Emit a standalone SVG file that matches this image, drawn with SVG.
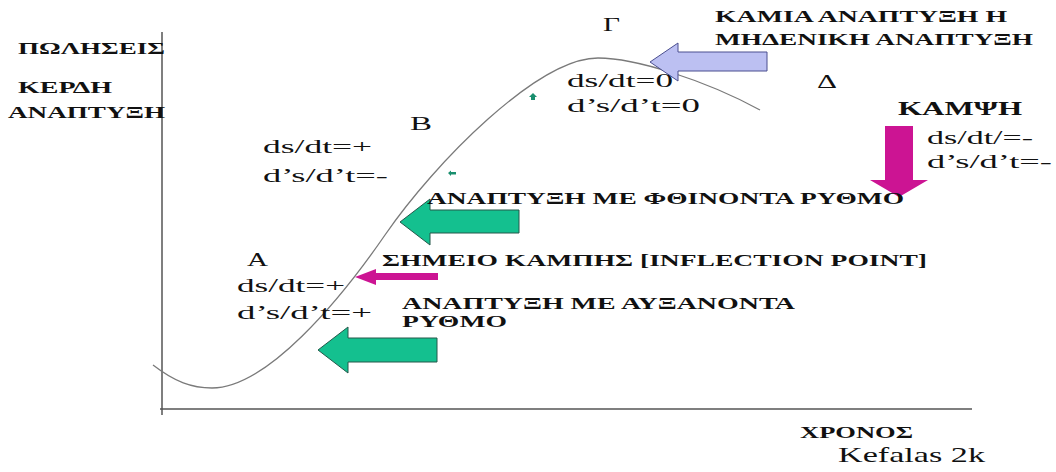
<svg xmlns="http://www.w3.org/2000/svg" width="1056" height="472" viewBox="0 0 1056 472">
<style>
.gb{font-family:'Liberation Serif','DejaVu Serif','Noto Serif','Times New Roman',serif;font-weight:bold;font-size:17.5px;fill:#111}
.r{font-family:'Liberation Serif','DejaVu Serif','Noto Serif','Times New Roman',serif;font-size:19.5px;fill:#111}
.axis{stroke:#555;stroke-width:1.5;fill:none}
.curve{stroke:#7a7a7a;stroke-width:1.3;fill:none}
.green{fill:#14c08f;stroke:#25584a;stroke-width:1}
.mag{fill:#cc1493;stroke:none}
.blue{fill:#bcc0f2;stroke:#4b4f8f;stroke-width:1}
</style>
<rect width="1056" height="472" fill="#fff"/>
<g id="axes">
<line class="axis" x1="162" y1="32" x2="162" y2="415"/>
<line class="axis" x1="160" y1="409" x2="972" y2="409"/>
</g>
<g id="curve">
<path class="curve" d="M153,365 C175,382 192,388 212,388 C267,388 340,300.25 385,235 C435,162.5 538,58 598,58 C635,58 705,80 760,110"/>
</g>
<g id="connectors">
<polygon id="arrow-no-growth" class="blue" points="650,62 678,43 678,52 767,52 767,71 678,71 678,81"/>
<polygon id="arrow-decreasing" class="green" points="400,222 430,199 430,210 519,210 519,233 430,233 430,245"/>
<polygon id="arrow-increasing" class="green" points="318,350 348,327 348,338 437,338 437,362 348,362 348,373"/>
<polygon id="arrow-inflection" class="mag" points="355,277 376,269 376,273 438,273 438,280 376,280 376,285"/>
<polygon id="arrow-decline" class="mag" points="885,126 913,126 913,180 928,180 899,197 870,180 885,180"/>
<polygon id="mark-1" fill="#1a8f6f" points="533,93 537,97 535,97 535,100 531,100 531,97 529,97"/>
<polygon id="mark-2" fill="#1a8f6f" points="448,173 451,170.5 451,172 456,172 456,174.5 451,174.5 451,176"/>
</g>
<g id="y-labels">
<text class="gb" x="18" y="54" textLength="147" lengthAdjust="spacingAndGlyphs">ΠΩΛΗΣΕΙΣ</text>
<text class="gb" x="18" y="93" textLength="94" lengthAdjust="spacingAndGlyphs">ΚΕΡΔΗ</text>
<text class="gb" x="8" y="118" textLength="157" lengthAdjust="spacingAndGlyphs">ΑΝΑΠΤΥΞΗ</text>
</g>
<g id="phase-A">
<text class="r" x="247" y="266" textLength="21" lengthAdjust="spacingAndGlyphs">Α</text>
<text class="r" x="237" y="292" textLength="108" lengthAdjust="spacingAndGlyphs">ds/dt=+</text>
<text class="r" x="237" y="319" textLength="135" lengthAdjust="spacingAndGlyphs">d’s/d’t=+</text>
</g>
<g id="phase-B">
<text class="r" x="410" y="130" textLength="22" lengthAdjust="spacingAndGlyphs">Β</text>
<text class="r" x="263" y="153" textLength="109" lengthAdjust="spacingAndGlyphs">ds/dt=+</text>
<text class="r" x="263" y="182" textLength="125" lengthAdjust="spacingAndGlyphs">d’s/d’t=-</text>
</g>
<g id="phase-G">
<text class="r" x="603" y="31" textLength="17" lengthAdjust="spacingAndGlyphs">Γ</text>
<text class="r" x="567" y="87" textLength="106" lengthAdjust="spacingAndGlyphs">ds/dt=0</text>
<text class="r" x="567" y="112" textLength="133" lengthAdjust="spacingAndGlyphs">d’s/d’t=0</text>
</g>
<g id="phase-D">
<text class="r" x="817" y="88" textLength="20" lengthAdjust="spacingAndGlyphs">Δ</text>
<text class="gb" x="898" y="115" textLength="124" lengthAdjust="spacingAndGlyphs" style="font-size:18px">ΚΑΜΨΗ</text>
<text class="r" x="927" y="144" textLength="106" lengthAdjust="spacingAndGlyphs">ds/dt/=-</text>
<text class="r" x="927" y="168" textLength="125" lengthAdjust="spacingAndGlyphs">d’s/d’t=-</text>
</g>
<g id="no-growth-label">
<text class="gb" x="715" y="22" textLength="292" lengthAdjust="spacingAndGlyphs">ΚΑΜΙΑ ΑΝΑΠΤΥΞΗ Η</text>
<text class="gb" x="715" y="45" textLength="318" lengthAdjust="spacingAndGlyphs">ΜΗΔΕΝΙΚΗ ΑΝΑΠΤΥΞΗ</text>
</g>
<g id="decreasing-label">
<text class="gb" x="427" y="204" textLength="477" lengthAdjust="spacingAndGlyphs">ΑΝΑΠΤΥΞΗ ΜΕ ΦΘΙΝΟΝΤΑ ΡΥΘΜΟ</text>
</g>
<g id="inflection-label">
<text class="gb" x="382" y="266" textLength="545" lengthAdjust="spacingAndGlyphs">ΣΗΜΕΙΟ ΚΑΜΠΗΣ [INFLECTION POINT]</text>
</g>
<g id="increasing-label">
<text class="gb" x="402" y="309" textLength="393" lengthAdjust="spacingAndGlyphs">ΑΝΑΠΤΥΞΗ ΜΕ ΑΥΞΑΝΟΝΤΑ</text>
<text class="gb" x="402" y="327" textLength="105" lengthAdjust="spacingAndGlyphs">ΡΥΘΜΟ</text>
</g>
<g id="x-label">
<text class="gb" x="800" y="438" textLength="113" lengthAdjust="spacingAndGlyphs">ΧΡΟΝΟΣ</text>
</g>
<g id="credit">
<text class="r" x="838" y="462" textLength="147" lengthAdjust="spacingAndGlyphs" style="font-size:22px">Kefalas 2k</text>
</g>
</svg>
